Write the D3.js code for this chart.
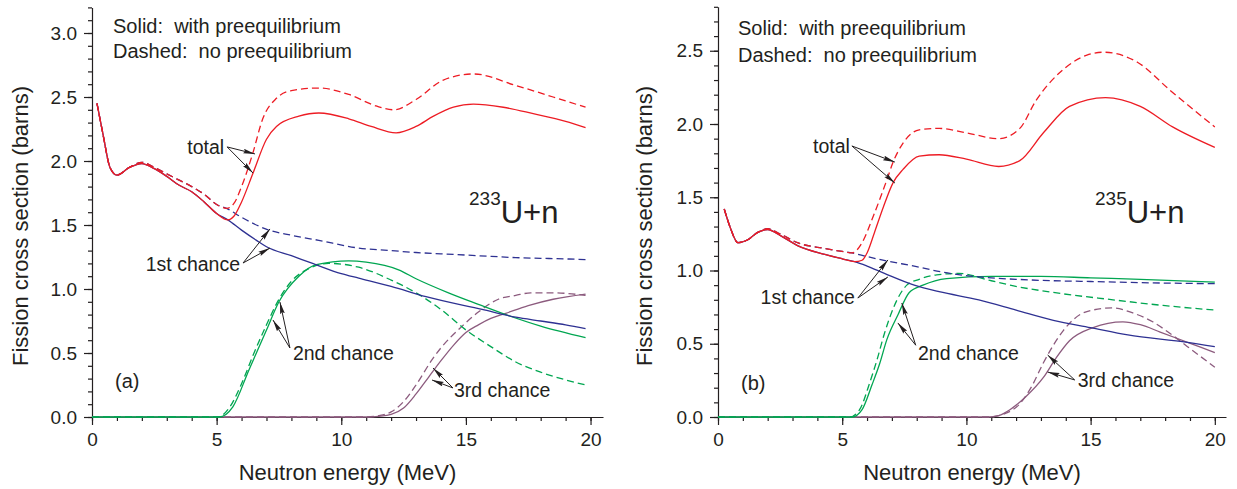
<!DOCTYPE html>
<html>
<head>
<meta charset="utf-8">
<script src="https://cdn.jsdelivr.net/npm/d3@7"></script>
<style>
  body { margin: 0; background: #fff; }
  svg { font-family: "Liberation Sans", Arial, sans-serif; }
  .tick text { fill: #231f20; }
</style>
</head>
<body>
<script>
// ---------- panel (a): 233U+n ----------
var a_totSolidE = [0.2,0.45,0.72,1.0,1.5,2.0,2.5,3.0,3.5,4.0,4.5,5.0,5.45,5.7,6.0,6.45,7.0,7.4,8.3,9.1,10.3,11.2,12.2,13.0,13.7,14.5,15.3,16.5,17.7,19.0,19.8];
var a_totSolid  = [2.45,2.2,1.95,1.89,1.95,1.98,1.94,1.88,1.81,1.76,1.68,1.59,1.54,1.57,1.68,1.90,2.17,2.27,2.35,2.375,2.33,2.27,2.22,2.27,2.35,2.42,2.445,2.42,2.37,2.31,2.26];
var a_totDashE  = [0.2,0.45,0.72,1.0,1.5,2.0,2.5,3.0,3.5,4.0,4.5,5.0,5.4,5.7,6.0,6.45,6.85,7.4,8.0,9.1,10.3,11.4,12.1,13.0,14.07,15.3,17.0,18.5,19.8];
var a_totDash   = [2.45,2.2,1.95,1.89,1.95,1.99,1.95,1.90,1.85,1.80,1.74,1.66,1.63,1.67,1.80,2.06,2.33,2.49,2.55,2.57,2.52,2.43,2.40,2.48,2.63,2.68,2.59,2.50,2.42];
var a_1stSolidE = [5.45,6.0,6.6,7.0,8.0,8.85,10.0,10.7,12.0,13.4,15.65,17.0,18.0,19.0,19.8];
var a_1stSolid  = [1.54,1.46,1.38,1.33,1.26,1.20,1.12,1.085,1.02,0.94,0.84,0.78,0.75,0.72,0.69];
var a_1stDashE  = [5.4,6.0,7.1,8.0,9.1,10.7,12.0,13.0,14.0,15.0,16.0,17.0,18.0,19.0,19.8];
var a_1stDash   = [1.63,1.56,1.46,1.42,1.38,1.32,1.30,1.285,1.275,1.265,1.255,1.245,1.24,1.235,1.23];
var a_2ndSolidE = [0,5.1,5.65,6.3,7.0,7.5,8.3,9.0,10.3,11.0,12.3,13.0,14.3,15.5,16.6,18.0,19.8];
var a_2ndSolid  = [0,0,0.08,0.37,0.68,0.9,1.1,1.19,1.22,1.21,1.15,1.08,0.97,0.88,0.8,0.71,0.62];
var a_2ndDashE  = [0,5.05,5.5,6.0,6.5,7.0,7.5,8.0,8.7,9.5,10.7,12.0,13.0,14.0,15.0,16.0,17.0,18.0,19.0,19.8];
var a_2ndDash   = [0,0,0.07,0.26,0.5,0.72,0.92,1.06,1.16,1.2,1.17,1.07,0.97,0.84,0.68,0.55,0.43,0.35,0.29,0.25];
var a_3rdSolidE = [0,11.0,11.5,12.0,12.5,13.0,13.5,14.0,14.5,15.0,15.5,16.0,16.6,17.5,18.5,19.8];
var a_3rdSolid  = [0,0,0.005,0.02,0.07,0.18,0.31,0.44,0.56,0.66,0.72,0.77,0.81,0.87,0.92,0.96];
var a_3rdDashE  = [0,11.0,11.5,12.0,12.5,13.0,13.65,14.0,14.85,15.5,16.3,17.0,17.6,18.5,19.8];
var a_3rdDash   = [0,0,0.01,0.04,0.12,0.25,0.45,0.54,0.71,0.82,0.92,0.95,0.97,0.97,0.95];

// ---------- panel (b): 235U+n ----------
var b_totSolidE = [0.25,0.5,0.8,1.2,1.6,2.0,2.5,3.2,4.3,5.0,5.5,5.8,6.0,6.3,6.65,7.05,7.45,8.1,8.9,10.0,11.3,12.15,13.1,14.15,15.6,17.0,18.3,20.0];
var b_totSolid  = [1.42,1.29,1.19,1.21,1.26,1.28,1.24,1.17,1.11,1.08,1.06,1.07,1.12,1.26,1.43,1.60,1.69,1.78,1.79,1.76,1.71,1.75,1.94,2.12,2.18,2.12,1.98,1.84];
var b_totDashE  = [0.25,0.5,0.8,1.2,1.6,2.0,2.5,3.2,4.3,5.0,5.4,5.8,6.25,6.8,7.05,7.45,8.1,8.9,10.0,11.3,12.15,12.8,13.75,14.85,15.5,16.9,18.2,20.0];
var b_totDash   = [1.42,1.29,1.19,1.21,1.26,1.285,1.25,1.19,1.15,1.13,1.12,1.19,1.37,1.62,1.74,1.87,1.96,1.97,1.94,1.90,1.97,2.16,2.35,2.47,2.49,2.42,2.23,1.98];
var b_1stSolidE = [5.5,6.0,6.7,7.9,8.9,10.5,12.0,13.5,15.0,16.5,18.9,20.0];
var b_1stSolid  = [1.06,1.03,0.98,0.90,0.855,0.80,0.73,0.66,0.61,0.56,0.51,0.48];
var b_1stDashE  = [5.4,6.0,6.8,7.9,9.0,10.5,12.0,13.5,15.0,17.0,19.0,20.0];
var b_1stDash   = [1.12,1.095,1.065,1.03,0.99,0.956,0.94,0.93,0.925,0.917,0.912,0.91];
var b_2ndSolidE = [0,5.4,5.8,6.2,6.5,6.8,7.25,7.7,8.25,9.2,11.0,13.0,15.0,17.0,20.0];
var b_2ndSolid  = [0,0,0.05,0.22,0.36,0.53,0.70,0.85,0.90,0.945,0.96,0.96,0.95,0.94,0.92];
var b_2ndDashE  = [0,5.3,5.7,6.1,6.4,6.7,7.1,7.6,8.1,8.8,9.7,11.0,11.9,13.5,15.9,18.0,20.0];
var b_2ndDash   = [0,0,0.05,0.23,0.39,0.57,0.76,0.90,0.94,0.97,0.98,0.93,0.895,0.85,0.80,0.76,0.73];
var b_3rdSolidE = [0,10.9,11.3,11.75,12.4,13.1,13.6,14.15,15.1,16.3,17.0,17.8,18.9,20.0];
var b_3rdSolid  = [0,0,0.01,0.05,0.14,0.27,0.40,0.52,0.61,0.65,0.63,0.58,0.51,0.44];
var b_3rdDashE  = [0,10.9,11.5,12.15,12.6,13.1,13.5,13.9,14.85,15.9,16.7,17.5,18.2,18.9,20.0];
var b_3rdDash   = [0,0,0.02,0.09,0.2,0.37,0.49,0.59,0.72,0.745,0.71,0.65,0.57,0.48,0.34];

// annotation labels and arrows, in data units (MeV, barns)
var noteText = ["total", "1st chance", "2nd chance", "3rd chance"];
var noteAnchor = ["end", "end", "start", "start"];
var a_noteAt   = [[5.3,2.055],[5.94,1.14],[8.06,0.445],[14.52,0.156]];
var a_noteFrom = [[5.42,2.11],[6.06,1.203],[7.94,0.539],[14.48,0.227]];
var a_noteTips = [[[6.54,2.055],[6.46,1.906]],[[7.14,1.469],[7.14,1.32]],[[7.54,0.898],[7.26,0.758]],[[13.68,0.383],[13.64,0.289]]];
var b_noteAt   = [[5.31,1.80],[5.51,0.771],[8.05,0.389],[14.48,0.205]];
var b_noteFrom = [[5.39,1.85],[5.63,0.812],[7.96,0.49],[14.36,0.253]];
var b_noteTips = [[[7.12,1.74],[7.12,1.597]],[[6.84,1.072],[6.84,0.956]],[[7.40,0.778],[7.24,0.642]],[[13.27,0.423],[13.27,0.307]]];

var xTicks = [0, 5, 10, 15, 20];
var red = "#ed1c24", blue = "#2e3192", green = "#00a651", purple = "#8c5b7e", ink = "#231f20";

var svg = d3.select("body").append("svg")
    .attr("width", 1237)
    .attr("height", 489);

svg.append("defs").append("marker")
    .attr("id", "arr")
    .attr("viewBox", "0 0 10 4")
    .attr("refX", 10).attr("refY", 2)
    .attr("markerWidth", 12).attr("markerHeight", 5.4)
    .attr("markerUnits", "userSpaceOnUse")
    .attr("orient", "auto")
  .append("path")
    .attr("d", "M0,0L10,2L0,4L1.5,2Z")
    .attr("fill", ink);

function pairs(e, s) { return d3.zip(e, s); }

function drawPanel(p) {
  var x = d3.scaleLinear().domain([0, p.xMax]).range([p.left, p.right]);
  var y = d3.scaleLinear().domain([0, p.yMax]).range([417, p.top]);
  var g = svg.append("g");

  // minor ticks first
  g.append("g").attr("transform", "translate(0,417)")
    .call(d3.axisBottom(x).tickValues(d3.range(0, 21)).tickSize(4).tickFormat(""))
    .call(function(s) { s.select(".domain").remove(); });
  g.append("g").attr("transform", "translate(" + p.left + ",0)")
    .call(d3.axisLeft(y).tickValues(d3.range(0, p.yMax + 0.001, 0.1)).tickSize(4).tickFormat(""))
    .call(function(s) { s.select(".domain").remove(); });

  var xa = g.append("g").attr("transform", "translate(0,417)")
    .call(d3.axisBottom(x).tickValues(xTicks).tickSize(8).tickSizeOuter(0).tickPadding(8).tickFormat(d3.format("d")));
  var ya = g.append("g").attr("transform", "translate(" + p.left + ",0)")
    .call(d3.axisLeft(y).tickValues(p.yTicks).tickSize(8).tickSizeOuter(0).tickPadding(7).tickFormat(d3.format(".1f")));
  [xa, ya].forEach(function(a) {
    a.attr("font-family", null).attr("font-size", 19);
    a.selectAll("line, path").attr("stroke", ink).attr("stroke-width", 1.2);
  });
  g.selectAll(".tick line").attr("stroke", ink).attr("stroke-width", 1.2);

  var line = d3.line()
    .x(function(d) { return x(d[0]); })
    .y(function(d) { return y(d[1]); })
    .curve(d3.curveMonotoneX);

  p.series.forEach(function(s) {
    g.append("path")
      .datum(s.data)
      .attr("fill", "none")
      .attr("stroke", s.color)
      .attr("stroke-width", 1.3)
      .attr("stroke-dasharray", s.dash ? "7,4" : null)
      .attr("d", line);
  });

  // annotations
  noteText.forEach(function(t, i) {
    var f = p.from[i];
    p.tips[i].forEach(function(tp) {
      g.append("line")
        .attr("x1", x(f[0])).attr("y1", y(f[1]))
        .attr("x2", x(tp[0])).attr("y2", y(tp[1]))
        .attr("stroke", ink).attr("stroke-width", 1)
        .attr("marker-end", "url(#arr)");
    });
    g.append("text")
      .attr("x", x(p.at[i][0])).attr("y", y(p.at[i][1]))
      .attr("text-anchor", noteAnchor[i])
      .attr("font-size", 19.5).attr("fill", ink)
      .text(t);
  });

  // legend
  var lg = g.append("text").attr("font-size", 20).attr("fill", ink).style("white-space", "pre");
  lg.append("tspan").attr("x", p.left + p.legDx).attr("y", p.legY[0]).text("Solid:  with preequilibrium");
  lg.append("tspan").attr("x", p.left + p.legDx).attr("y", p.legY[1]).text("Dashed:  no preequilibrium");

  // nucleus label
  var nl = g.append("text").attr("x", p.nucX).attr("y", 223).attr("fill", ink);
  nl.append("tspan").attr("font-size", 19).attr("dy", -18).text(p.mass);
  nl.append("tspan").attr("font-size", 31).attr("dy", 18).text("U+n");

  g.append("text").attr("x", p.left + 23).attr("y", p.tagY)
    .attr("font-size", 20).attr("fill", ink).text(p.tag);

  g.append("text")
    .attr("x", (p.left + p.right) / 2).attr("y", 480)
    .attr("text-anchor", "middle").attr("font-size", 22).attr("fill", ink)
    .text("Neutron energy (MeV)");
  g.append("text")
    .attr("transform", "translate(" + p.yTitleX + ",226) rotate(-90)")
    .attr("text-anchor", "middle").attr("font-size", 22).attr("fill", ink)
    .text("Fission cross section (barns)");
}

function seriesFor(tS, tSE, tD, tDE, fS, fSE, fD, fDE, sS, sSE, sD, sDE, hS, hSE, hD, hDE) {
  // 1st chance equals the total below the 2nd-chance threshold
  var lowS = pairs(tSE, tS).filter(function(d) { return d[0] < fSE[0]; });
  var lowD = pairs(tDE, tD).filter(function(d) { return d[0] < fDE[0]; });
  return [
    {data: pairs(hDE, hD), color: purple, dash: true},
    {data: pairs(hSE, hS), color: purple},
    {data: pairs(sDE, sD), color: green, dash: true},
    {data: pairs(sSE, sS), color: green},
    {data: lowD.concat(pairs(fDE, fD)), color: blue, dash: true},
    {data: lowS.concat(pairs(fSE, fS)), color: blue},
    {data: pairs(tDE, tD), color: red, dash: true},
    {data: pairs(tSE, tS), color: red}
  ];
}

drawPanel({
  left: 92, right: 603, xMax: 20.5, top: 7.4, yMax: 3.2,
  yTicks: [0, 0.5, 1, 1.5, 2, 2.5, 3],
  series: seriesFor(a_totSolid, a_totSolidE, a_totDash, a_totDashE, a_1stSolid, a_1stSolidE, a_1stDash, a_1stDashE,
                    a_2ndSolid, a_2ndSolidE, a_2ndDash, a_2ndDashE, a_3rdSolid, a_3rdSolidE, a_3rdDash, a_3rdDashE),
  at: a_noteAt, from: a_noteFrom, tips: a_noteTips,
  legDx: 21, legY: [33, 58], nucX: 469, mass: "233", tag: "(a)", tagY: 388, yTitleX: 28
});

drawPanel({
  left: 718, right: 1226, xMax: 20.45, top: 6.8, yMax: 2.8,
  yTicks: [0, 0.5, 1, 1.5, 2, 2.5],
  series: seriesFor(b_totSolid, b_totSolidE, b_totDash, b_totDashE, b_1stSolid, b_1stSolidE, b_1stDash, b_1stDashE,
                    b_2ndSolid, b_2ndSolidE, b_2ndDash, b_2ndDashE, b_3rdSolid, b_3rdSolidE, b_3rdDash, b_3rdDashE),
  at: b_noteAt, from: b_noteFrom, tips: b_noteTips,
  legDx: 20, legY: [35, 62], nucX: 1095, mass: "235", tag: "(b)", tagY: 390, yTitleX: 652
});
</script>
</body>
</html>
